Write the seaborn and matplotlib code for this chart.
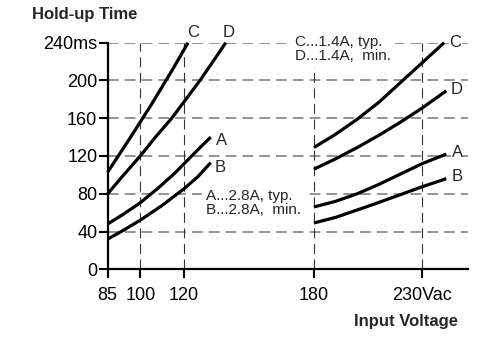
import matplotlib
matplotlib.use('Agg')
import matplotlib.pyplot as plt
import pandas as pd
import seaborn as sns

# ---- data ----
c_left_v = [85, 95, 105, 115, 122]
c_left_t = [103, 138, 174, 212, 240]
d_left_v = [85, 92, 100, 107, 114.5, 121, 127.5, 133.5, 139.4]
d_left_t = [80, 99, 120, 140, 160, 180, 200, 220, 240]
a_left_v = [85, 92, 100, 108, 116, 122, 128, 132.5]
a_left_t = [48, 58, 70.5, 85.5, 102, 116, 130, 140]
b_left_v = [85, 92, 100, 110, 120, 126.5, 132.5]
b_left_t = [32, 41, 52, 67.5, 85, 98, 113]

c_right_v = [180, 190, 200, 210, 220, 230, 240]
c_right_t = [129, 143, 159, 177, 198, 219, 240]
d_right_v = [180, 190, 200, 210, 220, 230, 241]
d_right_t = [106, 117, 129, 142, 156, 171, 189]
a_right_v = [180, 190, 200, 210, 220, 230, 241]
a_right_t = [66, 72, 80, 90, 101, 112, 122]
b_right_v = [180, 190, 204, 215, 230, 241]
b_right_t = [49, 55, 66, 75, 87.5, 96]

x_ticks = [85, 100, 120, 180, 230]
x_tick_labels = ['85', '100', '120', '180', '230Vac']
y_ticks = [0, 40, 80, 120, 160, 200, 240]
y_tick_labels = ['0', '40', '80', '120', '160', '200', '240ms']
v_grid = [100, 120, 180, 230]
h_grid = [40, 80, 120, 160, 200, 240]

segments = [
    ('C', 'C_left', c_left_v, c_left_t),
    ('D', 'D_left', d_left_v, d_left_t),
    ('A', 'A_left', a_left_v, a_left_t),
    ('B', 'B_left', b_left_v, b_left_t),
    ('C', 'C_right', c_right_v, c_right_t),
    ('D', 'D_right', d_right_v, d_right_t),
    ('A', 'A_right', a_right_v, a_right_t),
    ('B', 'B_right', b_right_v, b_right_t),
]
rows = []
for curve, seg, vs, ts in segments:
    for v, t in zip(vs, ts):
        rows.append({'voltage': v, 'time': t, 'curve': curve, 'segment': seg})
df = pd.DataFrame(rows)

# ---- style ----
sns.set_style('ticks')
plt.rcParams['font.family'] = ['Liberation Sans', 'DejaVu Sans']

fig = plt.figure(figsize=(5, 3.38), dpi=100)
ax = fig.add_axes([0.2154, 0.2033, 0.7206, 0.6704])

# grid
for y in h_grid:
    ax.axhline(y, color='#777777', lw=1.1, ls=(0, (7, 4)), zorder=1)
for x in v_grid:
    ax.axvline(x, color='#333333', lw=0.8, ls=(0, (9, 5)), zorder=1)

sns.lineplot(data=df, x='voltage', y='time', units='segment', estimator=None,
             sort=False, color='black', linewidth=2.3, ax=ax, zorder=3)
for ln in ax.lines:
    if ln.get_linewidth() > 2:
        ln.set_clip_on(False)
        ln.set_solid_capstyle('butt')
        ln.set_solid_joinstyle('round')

ax.set_xlim(85, 251)
ax.set_ylim(0, 240)
ax.set_xticks(x_ticks)
ax.set_xticklabels(x_tick_labels)
ax.set_yticks(y_ticks)
ax.set_yticklabels(y_tick_labels)
ax.set_xlabel('')
ax.set_ylabel('')
for s in ['top', 'right']:
    ax.spines[s].set_visible(False)
for s in ['left', 'bottom']:
    ax.spines[s].set_linewidth(1.6)
    ax.spines[s].set_color('black')
ax.tick_params(axis='both', direction='out', length=6.5, width=1.5,
               colors='black', labelsize=13)
ax.tick_params(axis='y', pad=1.0)
ax.tick_params(axis='x', pad=6.5)

# curve labels
box = dict(facecolor='white', edgecolor='none', pad=0.5)
lab_kw = dict(fontsize=12, ha='center', va='center', zorder=5, bbox=box)
ax.text(124.2, 251, 'C', clip_on=False, **lab_kw)
ax.text(140.8, 251, 'D', clip_on=False, **lab_kw)
ax.text(137.5, 136, 'A', **lab_kw)
ax.text(136.7, 108, 'B', **lab_kw)
ax.text(245.2, 240, 'C', clip_on=False, **lab_kw)
ax.text(245.8, 190, 'D', **lab_kw)
ax.text(246, 123.5, 'A', **lab_kw)
ax.text(246, 98.8, 'B', **lab_kw)

# legend notes
note_box = dict(facecolor='white', edgecolor='none', pad=3)
ax.text(171.3, 233, 'C...1.4A, typ.\nD...1.4A,  min.', fontsize=11,
        ha='left', va='center', linespacing=1.0, zorder=4, bbox=note_box)
ax.text(130.3, 70, 'A...2.8A, typ.\nB...2.8A,  min.', fontsize=11,
        ha='left', va='center', linespacing=1.0, zorder=4, bbox=note_box)

fig.text(0.065, 0.956, 'Hold-up Time', fontsize=12, fontweight='bold',
         ha='left', va='center')
fig.text(0.917, 0.048, 'Input Voltage', fontsize=12, fontweight='bold',
         ha='right', va='center')

fig.savefig('out.png', dpi=100)
